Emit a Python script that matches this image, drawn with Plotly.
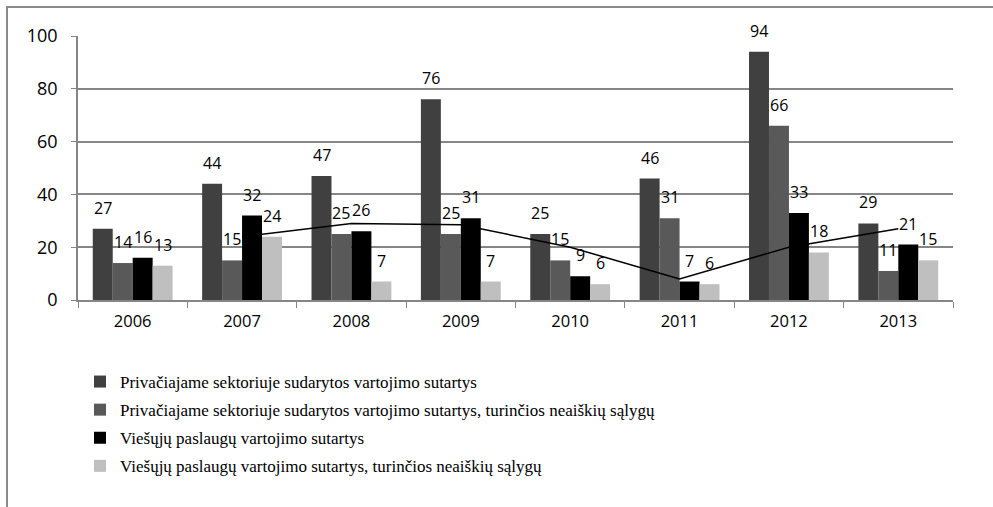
import plotly.graph_objects as go

years = ["2006", "2007", "2008", "2009", "2010", "2011", "2012", "2013"]
series_names = [
    "Privačiajame sektoriuje sudarytos vartojimo sutartys",
    "Privačiajame sektoriuje sudarytos vartojimo sutartys, turinčios neaiškių sąlygų",
    "Viešųjų paslaugų vartojimo sutartys",
    "Viešųjų paslaugų vartojimo sutartys, turinčios neaiškių sąlygų",
]
priv = [27, 44, 47, 76, 25, 46, 94, 29]
priv_unclear = [14, 15, 25, 25, 15, 31, 66, 11]
public = [16, 32, 26, 31, 9, 7, 33, 21]
public_unclear = [13, 24, 7, 7, 6, 6, 18, 15]
trend_years = ["2007", "2008", "2009", "2010", "2011", "2012", "2013"]
trend_vals = [24, 29, 28.5, 20, 8, 20, 27]
colors = ["#404040", "#595959", "#000000", "#bfbfbf"]

W, H = 993, 507
ML, MR, MT, MB = 78, 40, 36, 207
PW, PH = W - ML - MR, H - MT - MB
BARGAP = 0.27

fig = go.Figure()
all_series = [priv, priv_unclear, public, public_unclear]
for k, (name, vals, col) in enumerate(zip(series_names, all_series, colors)):
    fig.add_trace(go.Bar(
        x=years, y=vals, name=name, marker=dict(color=col, line=dict(width=0)),
        legendgroup=f"g{k}",
    ))

fig.add_trace(go.Scatter(
    x=trend_years, y=trend_vals, mode="lines", line=dict(color="#000000", width=1.5),
    showlegend=False, hoverinfo="skip",
))

bw = (1 - BARGAP) / 4
annotations = []
for k, vals in enumerate(all_series):
    off = -(1 - BARGAP) / 2 + (k + 0.5) * bw
    for i, v in enumerate(vals):
        annotations.append(dict(
            x=i + off, y=v, xref="x", yref="y", text=str(v), showarrow=False,
            yanchor="bottom", xanchor="center", yshift=8,
            font=dict(family="Open Sans", size=16, color="#000000"),
        ))

fig.update_layout(
    width=W, height=H,
    margin=dict(l=ML, r=MR, t=MT, b=MB),
    paper_bgcolor="white", plot_bgcolor="white",
    barmode="group", bargap=BARGAP, bargroupgap=0,
    annotations=annotations,
    showlegend=True,
    legend=dict(
        x=(80 - ML) / PW, xanchor="left",
        y=(PH + MT - 364) / PH, yanchor="top",
        orientation="v", traceorder="grouped", tracegroupgap=3,
        font=dict(family="Liberation Serif", size=17, color="#000000"),
        bgcolor="rgba(0,0,0,0)",
    ),
    shapes=[dict(
        type="rect", xref="paper", yref="paper",
        x0=(7 - ML) / PW, x1=(1010 - ML) / PW,
        y0=(PH + MT - 520) / PH, y1=(PH + MT - 7) / PH,
        line=dict(color="#8a8a8a", width=2), layer="below",
    )],
    xaxis=dict(
        type="category", tickson="boundaries", ticks="outside", ticklen=6,
        tickcolor="#868686", showline=True, linecolor="#868686", linewidth=1.5,
        showgrid=False, tickfont=dict(family="Open Sans", size=16.5, color="#000000"),
        ticklabelstandoff=5,
    ),
    yaxis=dict(
        range=[0, 100], tickvals=[0, 20, 40, 60, 80, 100], ticks="outside", ticklen=5,
        tickcolor="#868686", showline=True, linecolor="#868686", linewidth=1.5,
        showgrid=True, gridcolor="#868686", gridwidth=1.5, zeroline=False,
        tickfont=dict(family="Open Sans", size=18, color="#000000"),
        ticklabelstandoff=10,
    ),
)

fig.write_html("out.html", config={"displayModeBar": False},
               post_script="document.body.style.margin='0';")
